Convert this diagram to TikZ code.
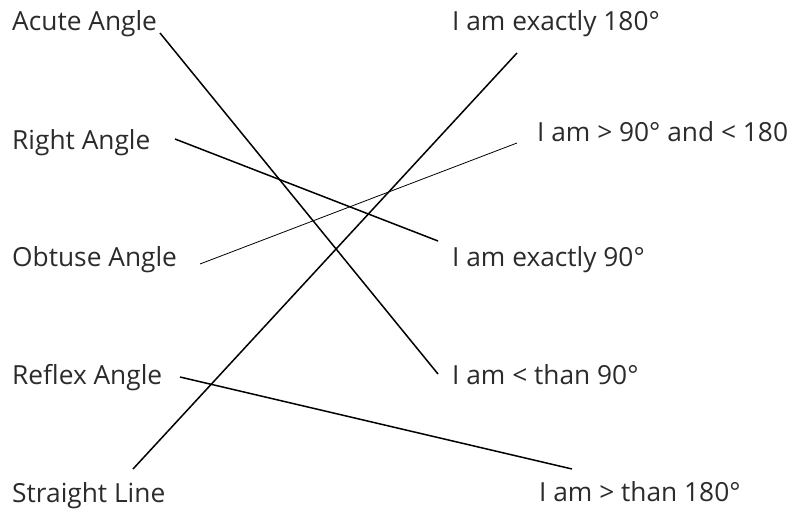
\documentclass[tikz,border=0pt]{standalone}
\usepackage{fontspec}
\setmainfont{Open Sans}
\definecolor{txt}{HTML}{2B2B2B}
\begin{document}
\begin{tikzpicture}[x=1pt,y=-1pt,
  lbl/.style={anchor=base west,inner sep=0pt,text=txt,font=\fontsize{26.3}{30}\selectfont},
  conn/.style={line width=1.5pt,black},
  thin/.style={line width=0.8pt,black}]
\useasboundingbox (0,0) rectangle (793,510);
\node[lbl] (acute) at (12,31) {Acute Angle};
\node[lbl] (right) at (12,150) {Right Angle};
\node[lbl] (obtuse) at (12,267) {Obtuse Angle};
\node[lbl] (reflex) at (12,385) {Reflex Angle};
\node[lbl] (straight) at (12,503) {Straight Line};
\node[lbl] (r180) at (452,31) {I am exactly 180°};
\node[lbl] (rob) at (537,142) {I am > 90° and < 180};
\node[lbl] (r90) at (452,267) {I am exactly 90°};
\node[lbl] (rlt) at (452,385) {I am < than 90°};
\node[lbl] (rgt) at (539,502) {I am > than 180°};
\coordinate (a1) at (160,33);   \coordinate (a2) at (438,374);
\coordinate (b1) at (175,139);  \coordinate (b2) at (438,241);
\coordinate (c1) at (200,264);  \coordinate (c2) at (517,143);
\coordinate (d1) at (133,469);  \coordinate (d2) at (517,53);
\coordinate (e1) at (180,377);  \coordinate (e2) at (572,469);
\draw[conn] (a1) -- (a2);
\draw[conn] (b1) -- (b2);
\draw[thin] (c1) -- (c2);
\draw[conn] (d1) -- (d2);
\draw[conn] (e1) -- (e2);
\end{tikzpicture}
\end{document}
